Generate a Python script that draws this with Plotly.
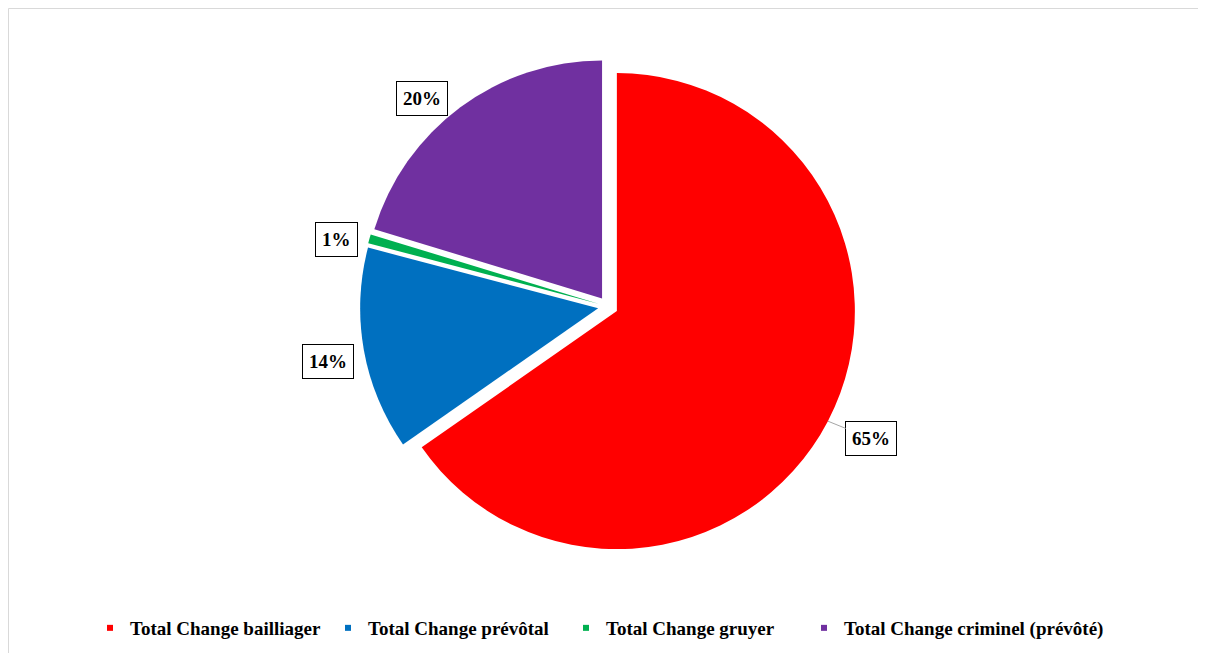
import math
import plotly.graph_objects as go

# ---- data ----
categories = ["Total Change bailliager", "Total Change prévôtal",
              "Total Change gruyer", "Total Change criminel (prévôté)"]
values = [65.3, 13.8, 0.6, 20.3]

# ---- style ----
colors = ["#FF0000", "#0070C0", "#00B050", "#7030A0"]
W, H = 1206, 653
PULL = 0.042
FONT = "Liberation Serif"
# small pixel nudges of the percentage boxes (dx right, dy down)
label_nudge = [(0, -5), (-2, 6), (0, 10), (-18, 19)]
# legend layout: first entries use a fixed pitch, last one in a second legend
LEG_X0 = 82
LEG_ENTRY = 193
LEG_PITCH = 238
legend_ids = ["legend", "legend", "legend", "legend2"]

# pie box: centre and radius in figure pixels
cx_px, cy_px = 600, 298.5
r_px = 238
box = 2 * r_px * (1 + PULL)
dom_y = [1 - (cy_px + box / 2) / H, 1 - (cy_px - box / 2) / H]
dom_x = [0.2, 2 * cx_px / W - 0.2]

fig = go.Figure()
fig.add_trace(go.Pie(
    labels=categories, values=values, sort=False, direction="clockwise",
    rotation=0, pull=[PULL] * len(values),
    marker=dict(colors=colors, line=dict(width=0)),
    textinfo="none", showlegend=False,
    domain=dict(x=dom_x, y=dom_y),
))

# legend entries drawn as small squares
for name, col, lg in zip(categories, colors, legend_ids):
    fig.add_trace(go.Scatter(
        x=[None], y=[None], mode="markers", name=name, legend=lg,
        marker=dict(symbol="square", size=6, color=col),
    ))

# percentage labels positioned from slice mid-angles
total = sum(values)
annotations = []
cum = 0.0
for i, v in enumerate(values):
    mid = (cum + v / 2) / total * 2 * math.pi
    cum += v
    ux, udown = math.sin(mid), -math.cos(mid)
    txt = f"{round(v / total * 100)}%"
    ndx, ndy = label_nudge[i]
    common = dict(
        text=txt, xref="paper", yref="paper",
        font=dict(family=FONT, size=19, color="black", weight="bold"),
        bordercolor="black", borderwidth=1, borderpad=6, bgcolor="white",
    )
    if i == 0:
        edge = r_px * (1 + PULL)
        ex, ey = cx_px + edge * ux, cy_px + edge * udown
        lr = 297
        lx, ly = cx_px + lr * ux + ndx, cy_px + lr * udown + ndy
        annotations.append(dict(
            x=ex / W, y=1 - ey / H, ax=lx - ex, ay=ly - ey,
            showarrow=True, arrowhead=0, arrowwidth=1, arrowcolor="#A6A6A6",
            standoff=0, **common))
    else:
        lr = 282
        lx, ly = cx_px + lr * ux + ndx, cy_px + lr * udown + ndy
        annotations.append(dict(x=lx / W, y=1 - ly / H, showarrow=False,
                                xanchor="center", yanchor="middle", **common))

leg_font = dict(family=FONT, size=19, color="black", weight="bold")
n_first = legend_ids.count("legend")

fig.update_layout(
    width=W, height=H,
    margin=dict(l=0, r=0, t=0, b=0, pad=0),
    paper_bgcolor="white", plot_bgcolor="white",
    xaxis=dict(visible=False), yaxis=dict(visible=False),
    annotations=annotations,
    legend=dict(orientation="h", x=LEG_X0 / W, xanchor="left", y=1 - 620 / H,
                yanchor="middle", entrywidth=LEG_ENTRY, entrywidthmode="pixels",
                font=leg_font),
    legend2=dict(orientation="h", x=(LEG_X0 + n_first * LEG_PITCH) / W,
                 xanchor="left", y=1 - 620 / H, yanchor="middle",
                 font=leg_font),
    shapes=[dict(type="rect", xref="paper", yref="paper",
                 x0=0.5 / W, x1=1.02, y0=-0.02, y1=1 - 0.5 / H,
                 line=dict(color="#D9D9D9", width=1))],
)

fig.write_html("out.html")
